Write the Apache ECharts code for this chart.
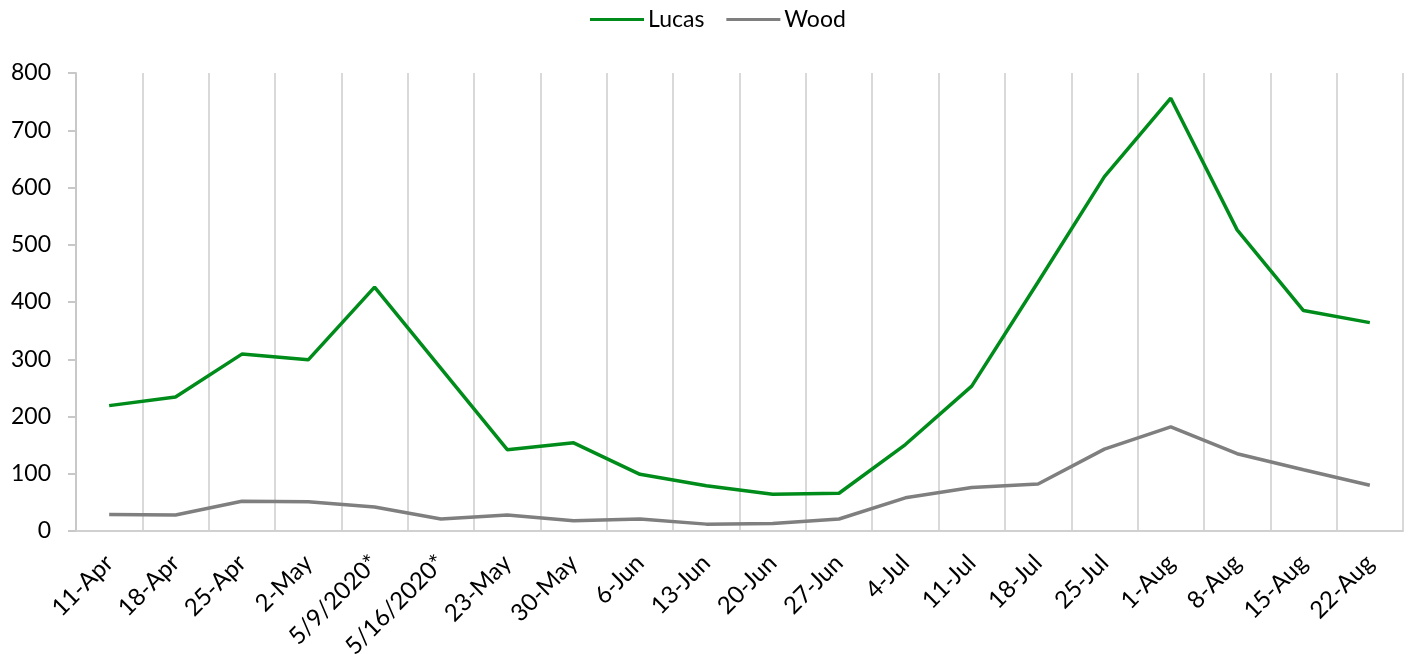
<!DOCTYPE html>
<html><head><meta charset="utf-8">
<script src="https://cdn.jsdelivr.net/npm/echarts@6/dist/echarts.min.js"></script>
<style>html,body{margin:0;padding:0;background:#fff}#c{width:1410px;height:654px}</style>
</head><body><div id="c"></div>
<script>
const categories = ['11-Apr','18-Apr','25-Apr','2-May','5/9/2020*','5/16/2020*','23-May','30-May','6-Jun','13-Jun','20-Jun','27-Jun','4-Jul','11-Jul','18-Jul','25-Jul','1-Aug','8-Aug','15-Aug','22-Aug'];
const lucas = [219,234,309,299,426,284,142,154,99,79,64,66,151,253,435,619,756,526,385,364];
const wood = [29,28,52,51,42,21,28,18,21,12,13,21,58,76,82,143,182,135,107,80];
const yTicks = [0,100,200,300,400,500,600,700,800];

const chart = echarts.init(document.getElementById('c'));
const font = 'Lato, Open Sans, sans-serif';
chart.setOption({
  animation:false,
  legend:{top:3,left:585,itemWidth:54,itemHeight:3,itemGap:22,icon:'rect',
    textStyle:{fontFamily:font,fontSize:23,color:'#000',padding:[0,0,0,-1]},
    data:['Lucas','Wood']},
  grid:{left:76,right:7,top:73,bottom:123,containLabel:false,outerBoundsMode:'none'},
  xAxis:{type:'category',data:categories,boundaryGap:true,
    axisLine:{lineStyle:{color:'#d0d0d0',width:2}},
    axisTick:{show:false},
    splitLine:{show:true,lineStyle:{color:'#d9d9d9',width:2}},
    axisLabel:{rotate:45,fontFamily:font,fontSize:24,color:'#000',margin:28,interval:0}},
  yAxis:{type:'value',min:yTicks[0],max:yTicks[yTicks.length-1],interval:100,
    axisLine:{show:true,lineStyle:{color:'#c8c8c8',width:2}},
    axisTick:{show:true,length:8,lineStyle:{color:'#c8c8c8',width:2}},
    splitLine:{show:false},
    axisLabel:{fontFamily:font,fontSize:23,color:'#000',margin:25}},
  series:[
    {name:'Lucas',type:'line',data:lucas,symbol:'none',lineStyle:{color:'#008C1A',width:3.5},itemStyle:{color:'#008C1A'}},
    {name:'Wood',type:'line',data:wood,symbol:'none',lineStyle:{color:'#7F7F7F',width:3.5},itemStyle:{color:'#7F7F7F'}}
  ]
});
</script></body></html>
